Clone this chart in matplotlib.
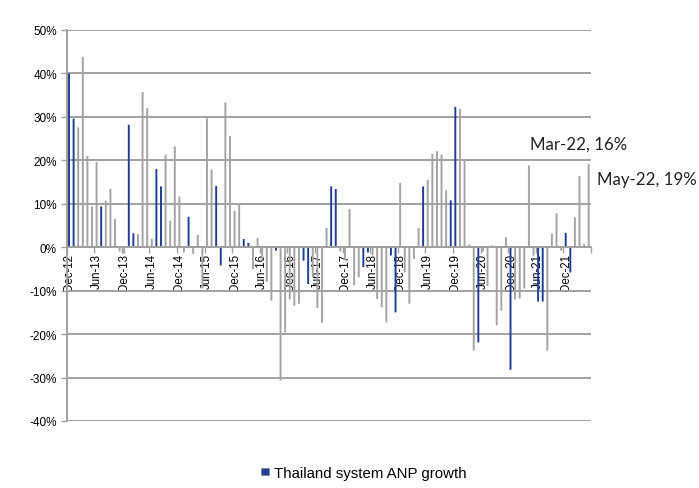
import matplotlib
matplotlib.use("Agg")
import matplotlib.pyplot as plt
from matplotlib.ticker import FixedLocator, FuncFormatter
import numpy as np

# Monthly ANP growth (%), Dec-12 .. May-22
start_year, start_month = 2012, 12
growth = [
    40.0, 29.6, 27.6, 43.8, 21.0, 9.4, 19.6, 9.4, 10.7, 13.4, 6.5, -1.0,
    -1.5, 28.2, 3.2, 3.0, 35.7, 32.0, 1.9, 18.0, 14.0, 21.3, 6.1, 23.2,
    11.7, -1.2, 7.0, -1.5, 2.8, -9.5, 29.7, 17.9, 14.1, -4.2, 33.3, 25.6,
    8.4, 9.8, 1.9, 1.0, -5.0, 2.1, -3.0, -8.0, -12.3, -0.8, -30.7, -19.6,
    -12.0, -13.5, -13.0, -3.1, -8.5, -6.9, -14.0, -17.4, 4.4, 14.0, 13.4, -1.0,
    -3.0, 8.8, -8.8, -6.9, -4.6, -1.2, -1.9, -11.9, -13.8, -17.3, -1.9, -15.0,
    14.8, -5.8, -13.0, -2.7, 4.4, 14.0, 15.5, 21.5, 22.1, 21.3, 13.1, 10.8,
    32.3, 31.9, 20.0, 0.6, -23.8, -21.9, -1.0, -9.0, 0.4, -18.0, -14.6, 2.3,
    -28.2, -12.0, -11.8, -9.5, 18.8, -1.9, -12.5, -12.5, -23.8, 3.1, 7.8, -0.8,
    3.3, -5.8, 6.9, 16.4, 0.8, 19.2,
]
# Months shown in the highlight colour
highlight = [0, 1, 7, 13, 14, 19, 20, 26, 32, 33, 38, 39, 45, 51, 52, 57, 58,
             64, 65, 70, 71, 77, 83, 84, 89, 96, 102, 103, 108, 109]
# Months carrying a value label
labelled = [111, 113]
series_name = "Thailand system ANP growth"
y_ticks = [-40, -30, -20, -10, 0, 10, 20, 30, 40, 50]

months = ["Jan", "Feb", "Mar", "Apr", "May", "Jun",
          "Jul", "Aug", "Sep", "Oct", "Nov", "Dec"]

def month_name(i):
    m = start_month - 1 + i
    y = start_year + m // 12
    return f"{months[m % 12]}-{y % 100:02d}"

n = len(growth)
x = np.arange(n)
vals = np.array(growth)
is_hi = np.zeros(n, dtype=bool)
is_hi[highlight] = True

GREY = "#a3a3a3"
BLUE = "#1f3d96"
GRID = "#a0a0a0"

plt.rcParams["font.family"] = ["Liberation Sans", "DejaVu Sans"]

fig = plt.figure(figsize=(6.99, 4.89), dpi=100)
ax = fig.add_axes([66.7 / 699, 1 - 422 / 489, (591 - 66.7) / 699, (422 - 31) / 489])

bw = 0.42
ax.bar(x[~is_hi], vals[~is_hi], width=bw, color=GREY, linewidth=0, zorder=3,
       snap=False)
ax.bar(x[is_hi], vals[is_hi], width=bw, color=BLUE, linewidth=0, zorder=3,
       snap=False, label=series_name)

ax.set_xlim(-0.5, n - 0.5)
ax.set_ylim(-40, 50)

# horizontal gridlines
ax.set_yticks(y_ticks)
ax.yaxis.set_major_formatter(FuncFormatter(lambda v, p: f"{v:.0f}%"))
ax.yaxis.grid(True, color=GRID, linewidth=1.4, zorder=0)
ax.set_axisbelow(True)
ax.tick_params(axis="y", length=4, width=1, color=GRID, labelsize=8.5,
               pad=3, labelcolor="black")

# category axis sitting on the zero line
for s in ["top", "right"]:
    ax.spines[s].set_visible(False)
ax.spines["bottom"].set_position(("data", 0))
ax.spines["bottom"].set_color(GRID)
ax.spines["bottom"].set_linewidth(1.4)
ax.spines["bottom"].set_zorder(4)
ax.spines["left"].set_color(GRID)
ax.spines["left"].set_linewidth(1.4)

label_pos = list(range(0, n, 6))
ax.set_xticks(label_pos)
ax.set_xticklabels([month_name(i) for i in label_pos], rotation=90,
                   fontsize=8.3, va="top", ha="center")
ax.tick_params(axis="x", which="major", length=0, pad=4)
ax.xaxis.set_minor_locator(FixedLocator(np.arange(-0.5, n, 6)))
ax.tick_params(axis="x", which="minor", length=4, width=1, color=GRID,
               direction="out")

# value labels
offsets = {111: (-50, 32), 113: (8, -15)}
for i in labelled:
    ax.annotate(f"{month_name(i)}, {vals[i]:.0f}%", xy=(x[i], vals[i]),
                xytext=offsets[i], textcoords="offset pixels",
                ha="left", va="center", fontsize=12.2,
                family=["Lato", "DejaVu Sans"], color="#222222",
                annotation_clip=False)

leg = fig.legend(loc="center", bbox_to_anchor=(364 / 699, 1 - 474 / 489),
                 frameon=False, fontsize=10.8, handlelength=0.5,
                 handleheight=0.4, handletextpad=0.35)
for h in leg.legend_handles:
    h.set_edgecolor("#8c8c8c")
    h.set_linewidth(0.6)

fig.savefig("out.png", dpi=100)
